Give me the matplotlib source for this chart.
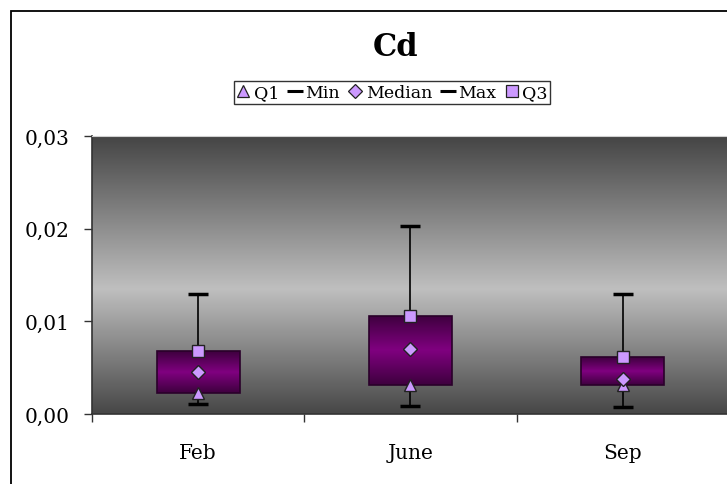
import numpy as np
import matplotlib
matplotlib.use("Agg")
import matplotlib.pyplot as plt
from matplotlib.lines import Line2D
from matplotlib.patches import Rectangle
from matplotlib.colors import LinearSegmentedColormap

plt.rcParams["font.family"] = ["DejaVu Serif"]

# box-plot statistics
months = ["Feb", "June", "Sep"]
q1 = [0.0023, 0.0031, 0.0031]
min_v = [0.0011, 0.0009, 0.0008]
median = [0.0045, 0.0070, 0.0038]
max_v = [0.0130, 0.0203, 0.0130]
q3 = [0.0068, 0.0106, 0.0061]
y_ticks = [0.0, 0.01, 0.02, 0.03]
y_labels = ["0,00", "0,01", "0,02", "0,03"]

MARK = "#cc99ff"
W, H = 727, 485
fig = plt.figure(figsize=(W / 100, H / 100), dpi=100)
fig.patch.set_facecolor("white")

# chart area frame (runs off the right / bottom edge)
fig.patches.append(Rectangle((11 / W, -0.1), 1.2, 1 - 12 / H + 0.1, transform=fig.transFigure,
                             fill=False, ec="black", lw=1.3, zorder=0))

ax = fig.add_axes([92 / W, 1 - 415 / H, 637 / W, 278 / H])
x = np.arange(len(months))

# grey plot-area gradient: dark top/bottom, light in the middle
bg = LinearSegmentedColormap.from_list("bg", [(0, "#474747"), (0.45, "#bfbfbf"), (1, "#454545")])
ax.imshow(np.linspace(0, 1, 256).reshape(-1, 1), cmap=bg, origin="lower", aspect="auto",
          extent=(0, 1, 0, 1), transform=ax.transAxes, zorder=0)

# boxes Q1..Q3 with purple vertical gradient
purple = LinearSegmentedColormap.from_list("pp", [(0, "#3e003e"), (0.5, "#800080"), (1, "#3e003e")])
bars = ax.bar(x, np.array(q3) - np.array(q1), bottom=q1, width=0.39, fc="none",
              ec="#2a002a", lw=1.2, zorder=3)
for b in bars:
    x0, y0 = b.get_x(), b.get_y()
    im = ax.imshow(np.linspace(0, 1, 128).reshape(-1, 1), cmap=purple, origin="lower", aspect="auto",
                   extent=(x0, x0 + b.get_width(), y0, y0 + b.get_height()), zorder=2)
    im.set_clip_path(b)
ax.set_xlim(-0.5, 2.5)
ax.set_ylim(0, 0.03)

# whiskers + caps
ax.vlines(x, q3, max_v, color="black", lw=1.2, zorder=2.5)
ax.vlines(x, min_v, q1, color="black", lw=1.2, zorder=2.5)
ax.plot(x, max_v, ls="none", marker="_", ms=14, mew=2.5, color="black", zorder=4)
ax.plot(x, min_v, ls="none", marker="_", ms=14, mew=2.5, color="black", zorder=4)

# quartile / median markers
ax.plot(x, q1, ls="none", marker="^", ms=9, mfc=MARK, mec="#222222", mew=1, zorder=5)
ax.plot(x, median, ls="none", marker="D", ms=7, mfc=MARK, mec="#222222", mew=1, zorder=5)
ax.plot(x, q3, ls="none", marker="s", ms=8, mfc=MARK, mec="#222222", mew=1, zorder=5)

# axes styling
ax.set_yticks(y_ticks)
ax.set_yticklabels(y_labels, fontsize=14.5)
ax.tick_params(axis="y", direction="out", length=6, width=1, color="#333333", pad=10)
ax.set_xticks([-0.5, 0.5, 1.5, 2.5])
ax.set_xticklabels([])
ax.set_xticks(x, minor=True)
ax.set_xticklabels(months, minor=True, fontsize=14.5)
ax.tick_params(axis="x", which="major", direction="out", length=6, width=1, color="#333333")
ax.tick_params(axis="x", which="minor", length=0, pad=21)
for s in ("left", "bottom"):
    ax.spines[s].set_color("#333333")
    ax.spines[s].set_linewidth(1.2)
ax.spines["top"].set_color("#d0d0d0")
ax.spines["right"].set_visible(False)

fig.text(396 / W, 1 - 47 / H, "Cd", ha="center", va="center", fontsize=22, fontweight="bold")

handles = [
    Line2D([], [], ls="none", marker="^", ms=9, mfc=MARK, mec="#222222", mew=0.9, label="Q1"),
    Line2D([], [], ls="none", marker="_", ms=11, mew=2.2, color="black", label="Min"),
    Line2D([], [], ls="none", marker="D", ms=7, mfc=MARK, mec="#222222", mew=0.9, label="Median"),
    Line2D([], [], ls="none", marker="_", ms=11, mew=2.2, color="black", label="Max"),
    Line2D([], [], ls="none", marker="s", ms=8, mfc=MARK, mec="#222222", mew=0.9, label="Q3"),
]
leg = fig.legend(handles=handles, loc="center", bbox_to_anchor=(392 / W, 1 - 93.5 / H), ncol=5,
                 fontsize=12.5, frameon=True, fancybox=False, edgecolor="black", handlelength=0.8,
                 handletextpad=0.2, columnspacing=0.5, borderpad=0.15, borderaxespad=0)
leg.get_frame().set_linewidth(1)

fig.savefig("out.png", dpi=100, facecolor="white")
